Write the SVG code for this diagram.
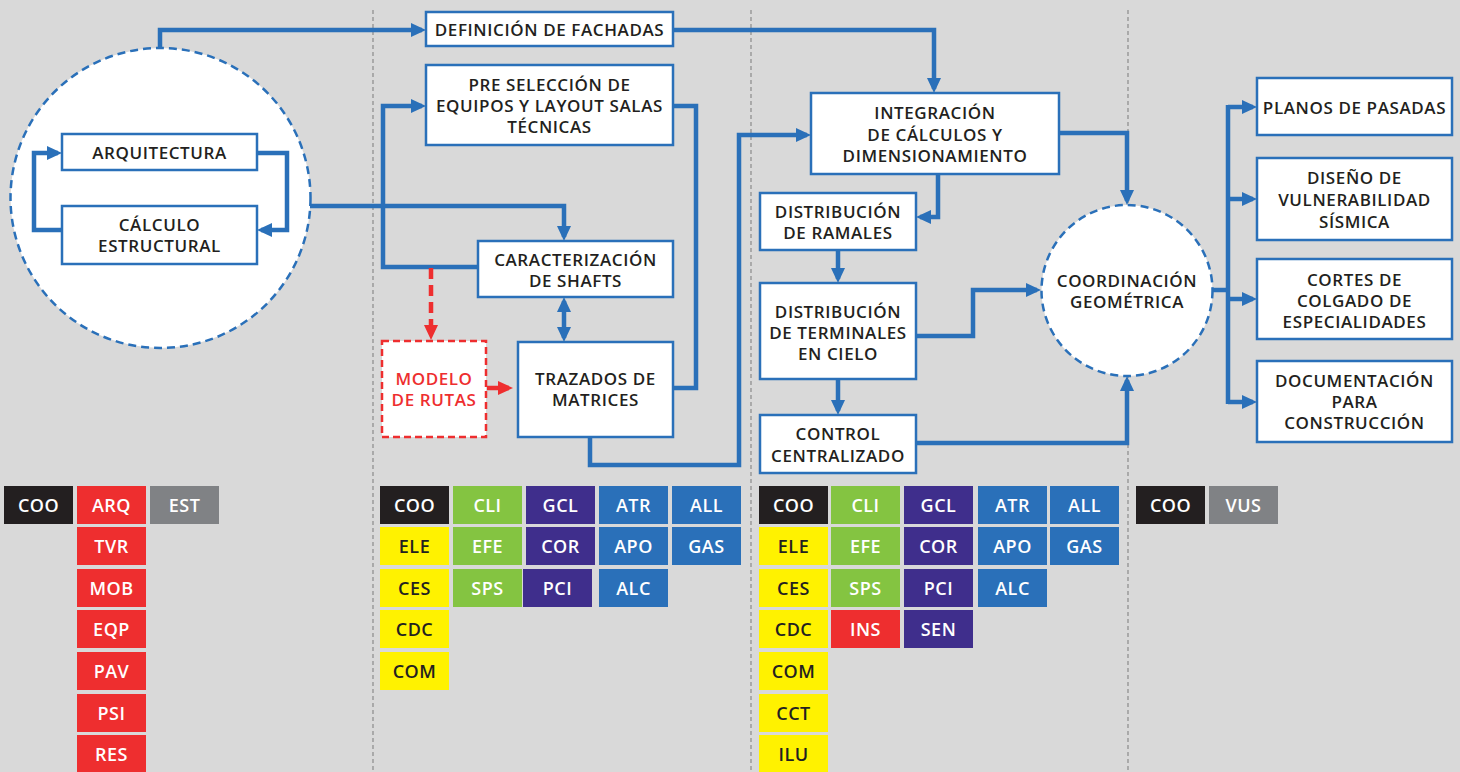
<svg xmlns="http://www.w3.org/2000/svg" width="1460" height="772" viewBox="0 0 1460 772">
<style>
.bg{fill:#d9d9d9}
.sep{stroke:#8a8a8a;stroke-width:1.2;stroke-dasharray:4 3;fill:none}
.box{fill:#fff;stroke:#2a70b9;stroke-width:2.5}
.circ{fill:#fff;stroke:#2a70b9;stroke-width:2.5;stroke-dasharray:8 5}
.rbox{fill:#fff;stroke:#ee2e2f;stroke-width:2.5;stroke-dasharray:7 4}
.t{font-family:"Open Sans","Liberation Sans",sans-serif;font-weight:600;font-size:17px;letter-spacing:0.6px;fill:#231f20;text-anchor:middle}
.tr{fill:#ee2e2f}
.c{fill:none;stroke:#2a70b9;stroke-width:4.5}
.cr{fill:none;stroke:#ee2e2f;stroke-width:4.5}
.tag{font-family:"Open Sans","Liberation Sans",sans-serif;font-weight:600;font-size:18px;letter-spacing:0.5px;fill:#fff;text-anchor:middle}
.tag.k{fill:#231f20}
.bk{fill:#231f20}.rd{fill:#ee2e2f}.gy{fill:#808285}.yl{fill:#fff200}.gn{fill:#84c441}.pu{fill:#3f2e8c}.bl{fill:#2a70b9}
</style>
<defs>
<marker id="ab" markerUnits="userSpaceOnUse" markerWidth="15" markerHeight="14" refX="11" refY="7" orient="auto-start-reverse"><path d="M0,0 L15,7 L0,14 z" fill="#2a70b9"/></marker>
<marker id="ar" markerUnits="userSpaceOnUse" markerWidth="15" markerHeight="14" refX="11" refY="7" orient="auto"><path d="M0,0 L15,7 L0,14 z" fill="#ee2e2f"/></marker>
</defs>
<rect class="bg" x="0" y="0" width="1460" height="772"/>
<g id="separators">
<line class="sep" x1="373" y1="10" x2="373" y2="772"/>
<line class="sep" x1="751" y1="10" x2="751" y2="772"/>
<line class="sep" x1="1128" y1="10" x2="1128" y2="772"/>
</g>
<g id="circle-left"><circle class="circ" cx="160.5" cy="198" r="150"/></g>
<g id="circle-coord"><circle class="circ" cx="1127" cy="290.5" r="85.5"/>
<text class="t" x="1127" y="287">COORDINACIÓN</text><text class="t" x="1127" y="308">GEOMÉTRICA</text></g>
<g id="connectors">
<path class="c" d="M160,48 V30 H422" marker-end="url(#ab)"/>
<path class="c" d="M310,206 H564 V237" marker-end="url(#ab)"/>
<path class="c" d="M62,230 H34 V153 H58" marker-end="url(#ab)"/>
<path class="c" d="M257,153 H287 V230 H261" marker-end="url(#ab)"/>
<path class="c" d="M478,267 H383 V106 H422" marker-end="url(#ab)"/>
<path class="cr" d="M431,268 V336" stroke-dasharray="11 6" marker-end="url(#ar)"/>
<path class="cr" d="M487,388 H509" marker-end="url(#ar)"/>
<path class="c" d="M564,301 V338" marker-start="url(#ab)" marker-end="url(#ab)"/>
<path class="c" d="M673,106 H696 V388 H673"/>
<path class="c" d="M590,437 V465 H739 V135 H807" marker-end="url(#ab)"/>
<path class="c" d="M673,30 H934 V89" marker-end="url(#ab)"/>
<path class="c" d="M1059,133 H1127 V201" marker-end="url(#ab)"/>
<path class="c" d="M938,174 V217 H920" marker-end="url(#ab)"/>
<path class="c" d="M838,250 V279" marker-end="url(#ab)"/>
<path class="c" d="M916,336 H973 V290 H1037" marker-end="url(#ab)"/>
<path class="c" d="M838,379 V411" marker-end="url(#ab)"/>
<path class="c" d="M916,443 H1127 V380" marker-end="url(#ab)"/>
<path class="c" d="M1212,290 H1228"/>
<path class="c" d="M1228,105 V404"/>
<path class="c" d="M1228,107 H1253" marker-end="url(#ab)"/>
<path class="c" d="M1228,199 H1253" marker-end="url(#ab)"/>
<path class="c" d="M1228,299 H1253" marker-end="url(#ab)"/>
<path class="c" d="M1228,402 H1253" marker-end="url(#ab)"/>
</g>
<g id="arquitectura"><rect class="box" x="62" y="134" width="195" height="36"/><text class="t" x="159.5" y="159">ARQUITECTURA</text></g>
<g id="calculo"><rect class="box" x="62" y="206" width="195" height="58"/><text class="t" x="159.5" y="231">CÁLCULO</text><text class="t" x="159.5" y="252">ESTRUCTURAL</text></g>
<g id="definicion"><rect class="box" x="426" y="12" width="247" height="34"/><text class="t" x="549.5" y="36">DEFINICIÓN DE FACHADAS</text></g>
<g id="preseleccion"><rect class="box" x="426" y="65" width="247" height="80"/><text class="t" x="549.5" y="91">PRE SELECCIÓN DE</text><text class="t" x="549.5" y="112">EQUIPOS Y LAYOUT SALAS</text><text class="t" x="549.5" y="133">TÉCNICAS</text></g>
<g id="caracterizacion"><rect class="box" x="478" y="241" width="195" height="56"/><text class="t" x="575.5" y="266">CARACTERIZACIÓN</text><text class="t" x="575.5" y="287">DE SHAFTS</text></g>
<g id="modelo"><rect class="rbox" x="382" y="341" width="104" height="96"/><text class="t tr" x="434" y="385">MODELO</text><text class="t tr" x="434" y="406">DE RUTAS</text></g>
<g id="trazados"><rect class="box" x="518" y="342" width="155" height="95"/><text class="t" x="595.5" y="385">TRAZADOS DE</text><text class="t" x="595.5" y="406">MATRICES</text></g>
<g id="integracion"><rect class="box" x="811" y="93" width="248" height="81"/><text class="t" x="935" y="119">INTEGRACIÓN</text><text class="t" x="935" y="141">DE CÁLCULOS Y</text><text class="t" x="935" y="162">DIMENSIONAMIENTO</text></g>
<g id="ramales"><rect class="box" x="760" y="193" width="156" height="57"/><text class="t" x="838" y="218">DISTRIBUCIÓN</text><text class="t" x="838" y="239">DE RAMALES</text></g>
<g id="terminales"><rect class="box" x="760" y="283" width="156" height="96"/><text class="t" x="838" y="318">DISTRIBUCIÓN</text><text class="t" x="838" y="339">DE TERMINALES</text><text class="t" x="838" y="360">EN CIELO</text></g>
<g id="control"><rect class="box" x="760" y="415" width="156" height="58"/><text class="t" x="838" y="440">CONTROL</text><text class="t" x="838" y="462">CENTRALIZADO</text></g>
<g id="planos"><rect class="box" x="1257" y="78" width="195" height="57"/><text class="t" x="1354.5" y="114">PLANOS DE PASADAS</text></g>
<g id="diseno"><rect class="box" x="1257" y="158" width="195" height="82"/><text class="t" x="1354.5" y="184">DISEÑO DE</text><text class="t" x="1354.5" y="206">VULNERABILIDAD</text><text class="t" x="1354.5" y="228">SÍSMICA</text></g>
<g id="cortes"><rect class="box" x="1257" y="259" width="195" height="80"/><text class="t" x="1354.5" y="286">CORTES DE</text><text class="t" x="1354.5" y="307">COLGADO DE</text><text class="t" x="1354.5" y="328">ESPECIALIDADES</text></g>
<g id="documentacion"><rect class="box" x="1257" y="361" width="195" height="81"/><text class="t" x="1354.5" y="387">DOCUMENTACIÓN</text><text class="t" x="1354.5" y="408">PARA</text><text class="t" x="1354.5" y="429">CONSTRUCCIÓN</text></g>
<g id="tags-col1">
<rect class="bk" x="4" y="486" width="69" height="38"/><text class="tag" x="38.5" y="511.5">COO</text>
<rect class="rd" x="77" y="486" width="69" height="38"/><text class="tag" x="111.5" y="511.5">ARQ</text>
<rect class="gy" x="150" y="486" width="69" height="38"/><text class="tag" x="184.5" y="511.5">EST</text>
<rect class="rd" x="77" y="527" width="69" height="38"/><text class="tag" x="111.5" y="552.5">TVR</text>
<rect class="rd" x="77" y="569" width="69" height="38"/><text class="tag" x="111.5" y="594.5">MOB</text>
<rect class="rd" x="77" y="610" width="69" height="38"/><text class="tag" x="111.5" y="635.5">EQP</text>
<rect class="rd" x="77" y="652" width="69" height="38"/><text class="tag" x="111.5" y="677.5">PAV</text>
<rect class="rd" x="77" y="694" width="69" height="38"/><text class="tag" x="111.5" y="719.5">PSI</text>
<rect class="rd" x="77" y="735" width="69" height="38"/><text class="tag" x="111.5" y="760.5">RES</text>
</g>
<g id="tags-col2">
<rect class="bk" x="380" y="486" width="69" height="38"/><text class="tag" x="414.5" y="511.5">COO</text>
<rect class="gn" x="453" y="486" width="69" height="38"/><text class="tag" x="487.5" y="511.5">CLI</text>
<rect class="pu" x="526" y="486" width="69" height="38"/><text class="tag" x="560.5" y="511.5">GCL</text>
<rect class="bl" x="599" y="486" width="69" height="38"/><text class="tag" x="633.5" y="511.5">ATR</text>
<rect class="bl" x="672" y="486" width="69" height="38"/><text class="tag" x="706.5" y="511.5">ALL</text>
<rect class="yl" x="380" y="527" width="69" height="38"/><text class="tag k" x="414.5" y="552.5">ELE</text>
<rect class="gn" x="453" y="527" width="69" height="38"/><text class="tag" x="487.5" y="552.5">EFE</text>
<rect class="pu" x="526" y="527" width="69" height="38"/><text class="tag" x="560.5" y="552.5">COR</text>
<rect class="bl" x="599" y="527" width="69" height="38"/><text class="tag" x="633.5" y="552.5">APO</text>
<rect class="bl" x="672" y="527" width="69" height="38"/><text class="tag" x="706.5" y="552.5">GAS</text>
<rect class="yl" x="380" y="569" width="69" height="38"/><text class="tag k" x="414.5" y="594.5">CES</text>
<rect class="gn" x="453" y="569" width="69" height="38"/><text class="tag" x="487.5" y="594.5">SPS</text>
<rect class="pu" x="523" y="569" width="69" height="38"/><text class="tag" x="557.5" y="594.5">PCI</text>
<rect class="bl" x="599" y="569" width="69" height="38"/><text class="tag" x="633.5" y="594.5">ALC</text>
<rect class="yl" x="380" y="610" width="69" height="38"/><text class="tag k" x="414.5" y="635.5">CDC</text>
<rect class="yl" x="380" y="652" width="69" height="38"/><text class="tag k" x="414.5" y="677.5">COM</text>
</g>
<g id="tags-col3">
<rect class="bk" x="759" y="486" width="69" height="38"/><text class="tag" x="793.5" y="511.5">COO</text>
<rect class="gn" x="831" y="486" width="69" height="38"/><text class="tag" x="865.5" y="511.5">CLI</text>
<rect class="pu" x="904" y="486" width="69" height="38"/><text class="tag" x="938.5" y="511.5">GCL</text>
<rect class="bl" x="978" y="486" width="69" height="38"/><text class="tag" x="1012.5" y="511.5">ATR</text>
<rect class="bl" x="1050" y="486" width="69" height="38"/><text class="tag" x="1084.5" y="511.5">ALL</text>
<rect class="yl" x="759" y="527" width="69" height="38"/><text class="tag k" x="793.5" y="552.5">ELE</text>
<rect class="gn" x="831" y="527" width="69" height="38"/><text class="tag" x="865.5" y="552.5">EFE</text>
<rect class="pu" x="904" y="527" width="69" height="38"/><text class="tag" x="938.5" y="552.5">COR</text>
<rect class="bl" x="978" y="527" width="69" height="38"/><text class="tag" x="1012.5" y="552.5">APO</text>
<rect class="bl" x="1050" y="527" width="69" height="38"/><text class="tag" x="1084.5" y="552.5">GAS</text>
<rect class="yl" x="759" y="569" width="69" height="38"/><text class="tag k" x="793.5" y="594.5">CES</text>
<rect class="gn" x="831" y="569" width="69" height="38"/><text class="tag" x="865.5" y="594.5">SPS</text>
<rect class="pu" x="904" y="569" width="69" height="38"/><text class="tag" x="938.5" y="594.5">PCI</text>
<rect class="bl" x="978" y="569" width="69" height="38"/><text class="tag" x="1012.5" y="594.5">ALC</text>
<rect class="yl" x="759" y="610" width="69" height="38"/><text class="tag k" x="793.5" y="635.5">CDC</text>
<rect class="rd" x="831" y="610" width="69" height="38"/><text class="tag" x="865.5" y="635.5">INS</text>
<rect class="pu" x="904" y="610" width="69" height="38"/><text class="tag" x="938.5" y="635.5">SEN</text>
<rect class="yl" x="759" y="652" width="69" height="38"/><text class="tag k" x="793.5" y="677.5">COM</text>
<rect class="yl" x="759" y="694" width="69" height="38"/><text class="tag k" x="793.5" y="719.5">CCT</text>
<rect class="yl" x="759" y="735" width="69" height="38"/><text class="tag k" x="793.5" y="760.5">ILU</text>
</g>
<g id="tags-col4">
<rect class="bk" x="1136" y="486" width="69" height="38"/><text class="tag" x="1170.5" y="511.5">COO</text>
<rect class="gy" x="1209" y="486" width="69" height="38"/><text class="tag" x="1243.5" y="511.5">VUS</text>
</g>
</svg>
